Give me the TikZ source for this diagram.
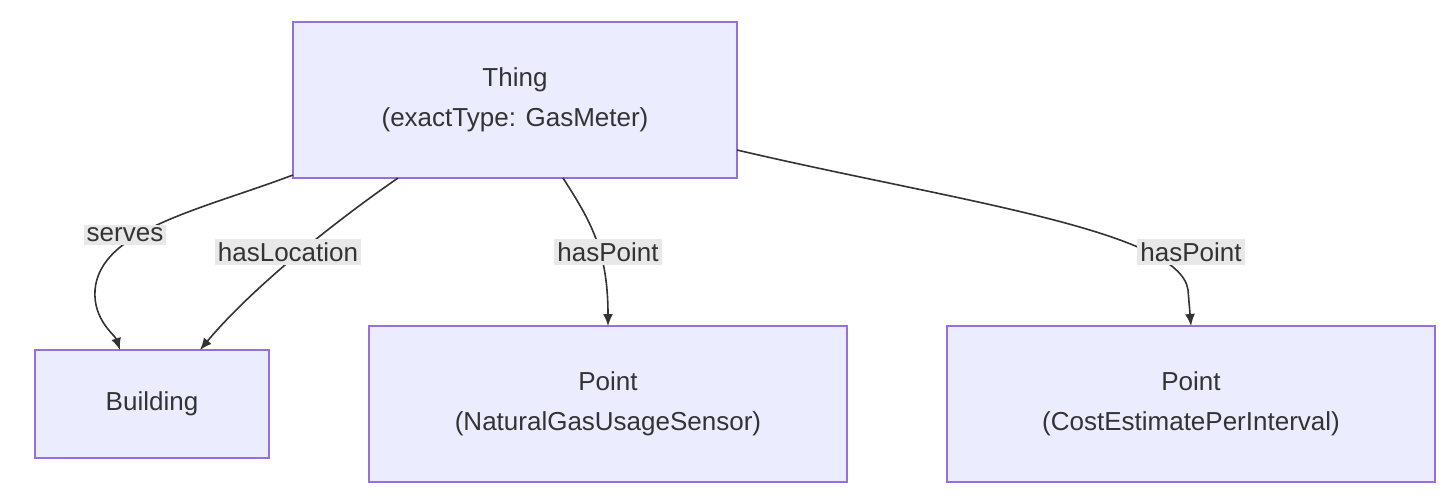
\documentclass[tikz,border=0pt]{standalone}
\usepackage{fontspec}
\setmainfont{Liberation Sans}
\usetikzlibrary{arrows.meta}
\definecolor{nfill}{HTML}{ECECFF}
\definecolor{nline}{HTML}{9370DB}
\definecolor{lbg}{HTML}{E8E8E8}
\definecolor{ink}{HTML}{333333}
\begin{document}
\begin{tikzpicture}[x=0.5pt,y=-0.5pt,
  box/.style={draw=nline,fill=nfill,line width=0.8pt,align=center,text=ink,font=\fontsize{13}{20}\selectfont,inner sep=0pt},
  lab/.style={fill=lbg,text=ink,font=\fontsize{13}{15}\selectfont,inner sep=1.5pt},
  edge/.style={draw=ink,line width=0.8pt,-{Latex[length=6pt,width=5pt]}}]
\useasboundingbox (0,0) rectangle (1454,500);
\node[box,minimum width=222pt,minimum height=78pt] (thing) at (515,100) {Thing\\(exactType: GasMeter)};
\node[box,minimum width=117pt,minimum height=54pt] (bld) at (152,404) {Building};
\node[box,minimum width=239pt,minimum height=78pt] (p1) at (608,404) {Point\\(NaturalGasUsageSensor)};
\node[box,minimum width=244pt,minimum height=78pt] (p2) at (1191,404) {Point\\(CostEstimatePerInterval)};
\coordinate (s1) at (293,175);
\coordinate (s2) at (398,178);
\coordinate (s3) at (563,178);
\coordinate (s4) at (737,150);
\coordinate (e1) at (120,350);
\coordinate (e2) at (200,350);
\coordinate (e3) at (608,326);
\coordinate (e4) at (1191,326);
\draw[edge] (s1) .. controls (200,210) and (100,230) .. (95,290) .. controls (93,320) and (115,335) .. (e1);
\draw[edge] (s2) .. controls (330,225) and (250,290) .. (e2);
\draw[edge] (s3) .. controls (590,220) and (608,250) .. (e3);
\draw[edge] (s4) .. controls (950,200) and (1180,230) .. (1188,290) -- (e4);
\node[lab] (l1) at (125,235) {serves};
\node[lab] (l2) at (288,252) {hasLocation};
\node[lab] (l3) at (608,252) {hasPoint};
\node[lab] (l4) at (1191,252) {hasPoint};
\end{tikzpicture}
\end{document}
